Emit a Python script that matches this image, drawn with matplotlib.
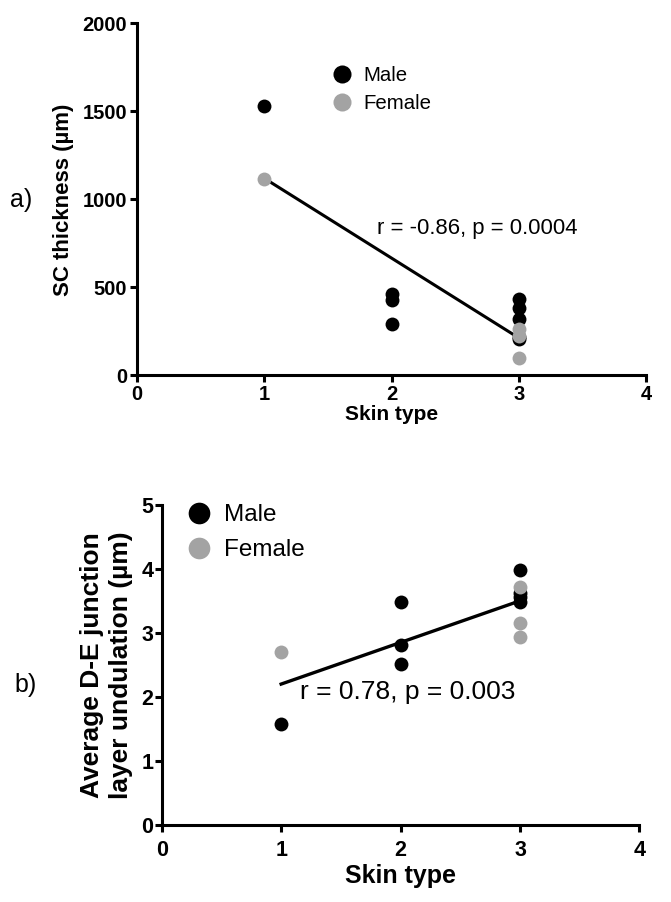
import matplotlib.pyplot as plt
from matplotlib.lines import Line2D

plt.rcParams['font.family'] = ['Liberation Sans', 'DejaVu Sans']

GRAY = '#a3a3a3'

# panel a: SC thickness (um) by skin type
a_male_x = [1, 2, 2, 2, 3, 3, 3, 3, 3]
a_male_y = [1530, 460, 425, 290, 435, 380, 318, 215, 205]
a_female_x = [1, 3, 3, 3]
a_female_y = [1118, 262, 225, 97]
a_fit_x = [1, 3]
a_fit_y = [1120, 212]

# panel b: D-E junction undulation (um) by skin type
b_male_x = [1, 2, 2, 2, 3, 3, 3, 3]
b_male_y = [1.58, 3.48, 2.81, 2.51, 3.98, 3.62, 3.56, 3.48]
b_female_x = [1, 3, 3, 3]
b_female_y = [2.70, 3.72, 3.15, 2.93]
b_fit_x = [1, 3]
b_fit_y = [2.20, 3.50]

fig = plt.figure(figsize=(6.71, 9.02), dpi=100)


def style_axes(ax, tick_size, xpad, ypad):
    for s in ['top', 'right']:
        ax.spines[s].set_visible(False)
    for s in ['left', 'bottom']:
        ax.spines[s].set_linewidth(2.2)
    ax.tick_params(width=2.2, length=5, direction='out', labelsize=tick_size)
    ax.tick_params(axis='x', pad=xpad)
    ax.tick_params(axis='y', pad=ypad)
    for lab in ax.get_xticklabels() + ax.get_yticklabels():
        lab.set_fontweight('bold')


# ---- panel a ----
ax1 = fig.add_axes([0.204, 0.584, 0.759, 0.390])
ax1.plot(a_fit_x, a_fit_y, color='black', lw=2.2, zorder=2)
ax1.plot(a_male_x, a_male_y, 'o', color='black', ms=10, mec='none', zorder=3)
ax1.plot(a_female_x, a_female_y, 'o', color=GRAY, ms=10, mec='none', zorder=4)
ax1.set_xlim(0, 4)
ax1.set_ylim(0, 2000)
ax1.set_xticks([0, 1, 2, 3, 4])
ax1.set_yticks([0, 500, 1000, 1500, 2000])
ax1.set_xlabel('Skin type', fontsize=15, fontweight='bold', labelpad=1)
ax1.set_ylabel('SC thickness (µm)', fontsize=16, fontweight='bold', labelpad=6)
style_axes(ax1, 14.5, 2, 2)
ax1.text(1.886, 835, 'r = -0.86, p = 0.0004', fontsize=15.9, va='center', ha='left')
h1 = [Line2D([], [], ls='none', marker='o', color='black', ms=13, mec='none'),
      Line2D([], [], ls='none', marker='o', color=GRAY, ms=13, mec='none')]
ax1.legend(h1, ['Male', 'Female'], frameon=False, fontsize=14.7,
           loc='center left', bbox_to_anchor=(0.363, 0.8125),
           handletextpad=0.44, labelspacing=0.45, borderaxespad=0,
           handlelength=1.2)
fig.text(0.015, 0.778, 'a)', fontsize=18, va='center')

# ---- panel b ----
ax2 = fig.add_axes([0.241, 0.0854, 0.712, 0.355])
ax2.plot(b_fit_x, b_fit_y, color='black', lw=2.4, zorder=2)
ax2.plot(b_male_x, b_male_y, 'o', color='black', ms=10, mec='none', zorder=3)
ax2.plot(b_female_x, b_female_y, 'o', color=GRAY, ms=10, mec='none', zorder=4)
ax2.set_xlim(0, 4)
ax2.set_ylim(0, 5)
ax2.set_xticks([0, 1, 2, 3, 4])
ax2.set_yticks([0, 1, 2, 3, 4, 5])
ax2.set_xlabel('Skin type', fontsize=18, fontweight='bold', labelpad=2)
ax2.set_ylabel('Average D-E junction\nlayer undulation (µm)', fontsize=19,
               fontweight='bold', labelpad=6, linespacing=1.24)
style_axes(ax2, 15.5, 6, 1)
ax2.text(1.155, 2.08, 'r = 0.78, p = 0.003', fontsize=19, va='center', ha='left')
h2 = [Line2D([], [], ls='none', marker='o', color='black', ms=15.6, mec='none'),
      Line2D([], [], ls='none', marker='o', color=GRAY, ms=15.6, mec='none')]
ax2.legend(h2, ['Male', 'Female'], frameon=False, fontsize=17.5,
           loc='center left', bbox_to_anchor=(0.033, 0.9125),
           handletextpad=0.52, labelspacing=0.55, borderaxespad=0,
           handlelength=1.0)
fig.text(0.022, 0.241, 'b)', fontsize=18, va='center')

fig.savefig('out.png', dpi=100)
